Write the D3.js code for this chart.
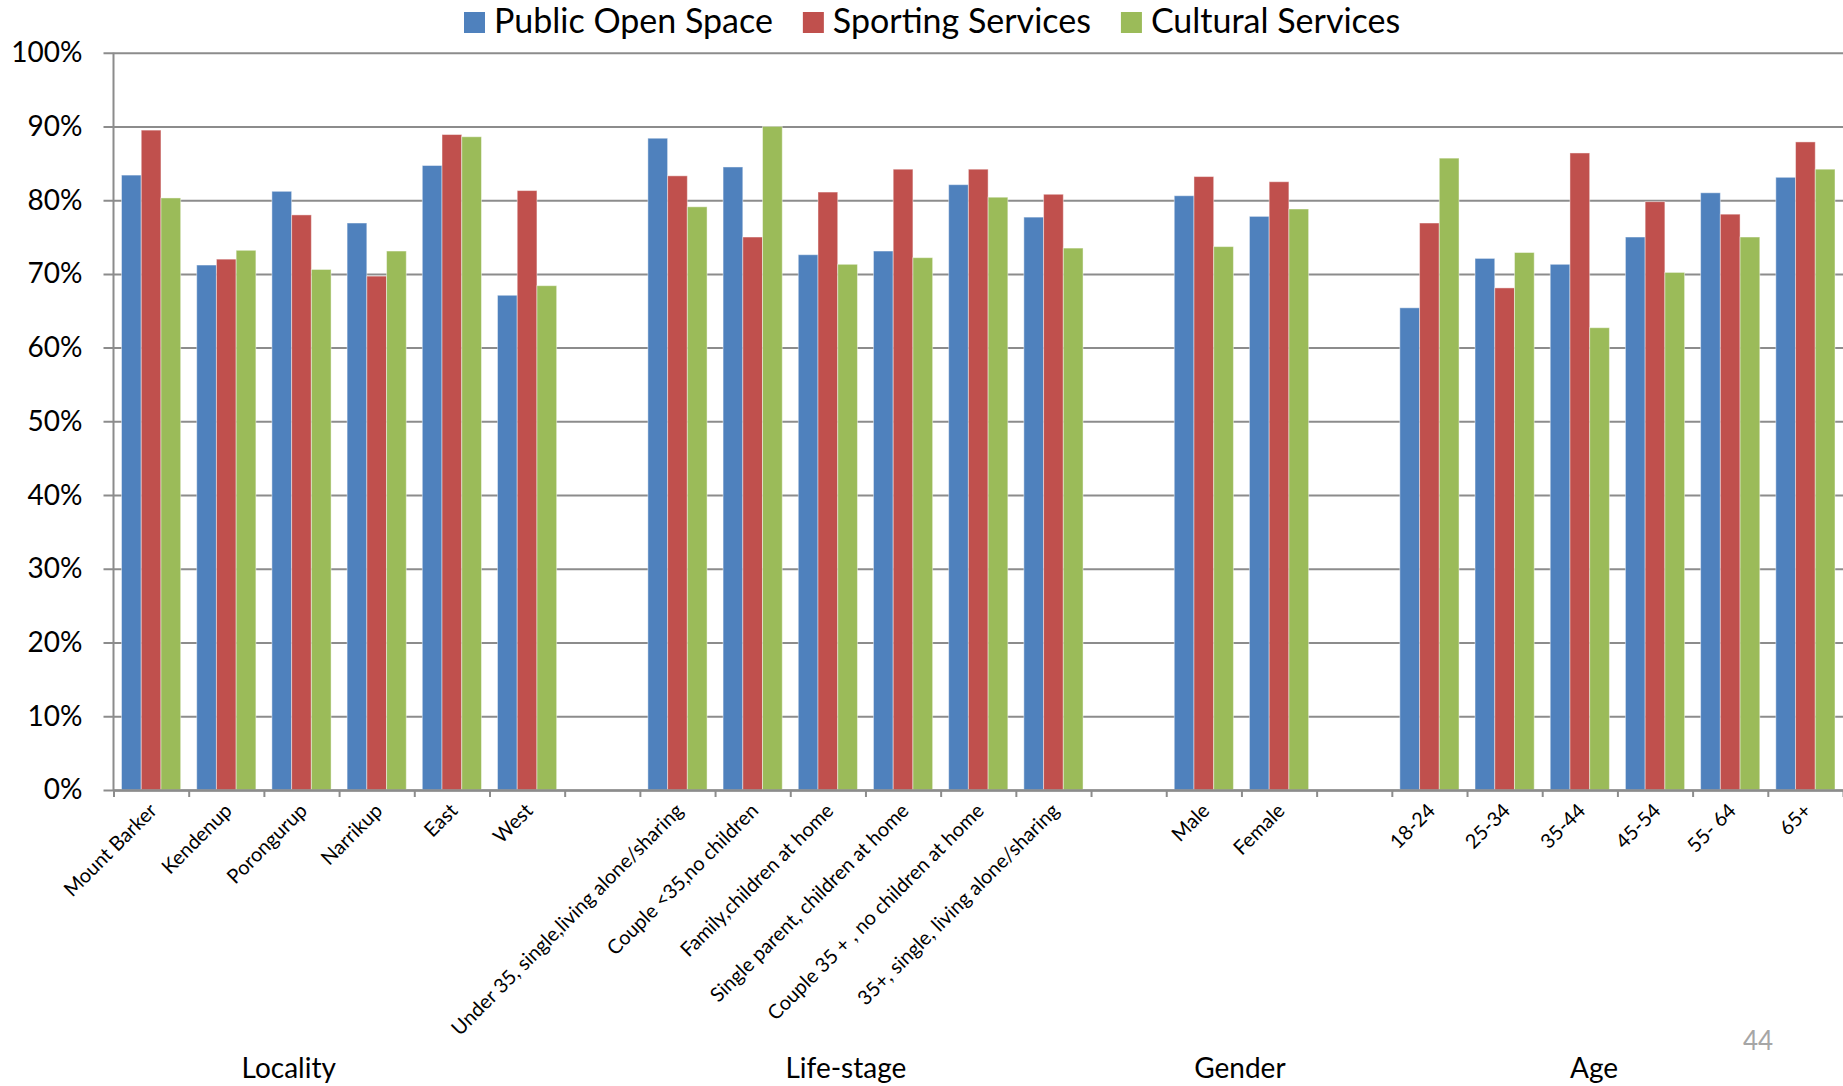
<!DOCTYPE html>
<html>
<head>
<meta charset="utf-8">
<script src="https://cdn.jsdelivr.net/npm/d3@7"></script>
<style>
  html, body { margin: 0; padding: 0; background: #ffffff; }
  svg { display: block; font-family: Lato, "Open Sans", sans-serif; }
</style>
</head>
<body>
<svg id="chart" width="1843" height="1086"></svg>
<script>
// Category slots along the x axis; empty strings are spacer slots between groups.
const categories = [
  "Mount Barker", "Kendenup", "Porongurup", "Narrikup", "East", "West",
  "",
  "Under 35, single,living alone/sharing", "Couple <35,no children",
  "Family,children at home", "Single parent, children at home",
  "Couple 35 + , no children at home", "35+, single, living alone/sharing",
  "",
  "Male", "Female",
  "",
  "18-24", "25-34", "35-44", "45-54", "55- 64", "65+"
];

// Share of respondents (%) per category for each service.
const publicOpenSpace = [83.4, 71.2, 81.2, 76.9, 84.7, 67.1, null,
  88.4, 84.5, 72.6, 73.1, 82.1, 77.7, null,
  80.6, 77.8, null,
  65.4, 72.1, 71.3, 75.0, 81.0, 83.1];
const sportingServices = [89.5, 72.0, 78.0, 69.7, 88.9, 81.3, null,
  83.3, 75.0, 81.1, 84.2, 84.2, 80.8, null,
  83.2, 82.5, null,
  76.9, 68.1, 86.4, 79.8, 78.1, 87.9];
const culturalServices = [80.3, 73.2, 70.6, 73.1, 88.6, 68.4, null,
  79.1, 90.0, 71.3, 72.2, 80.4, 73.5, null,
  73.7, 78.8, null,
  85.7, 72.9, 62.7, 70.2, 75.0, 84.2];

const seriesNames = ["Public Open Space", "Sporting Services", "Cultural Services"];
const seriesColors = ["#4F81BD", "#C0504D", "#9BBB59"];

const yTicks = [0, 10, 20, 30, 40, 50, 60, 70, 80, 90, 100];

// Group captions under the axis, placed in category units from the axis origin.
const groupNames = ["Locality", "Life-stage", "Gender", "Age"];
const groupPositions = [2.33, 9.74, 14.98, 19.69];

const pageNumber = "44";

const seriesValues = [publicOpenSpace, sportingServices, culturalServices];

const svg = d3.select("#chart");
const plot = { left: 113.5, right: 1843, top: 52.7, bottom: 790 };

const x = d3.scaleBand()
  .domain(d3.range(categories.length))
  .range([plot.left, plot.right])
  .paddingInner(0.213)
  .paddingOuter(0.1065);
const xSeries = d3.scaleBand()
  .domain(d3.range(seriesNames.length))
  .range([0, x.bandwidth()]);
const xUnits = d3.scaleLinear()
  .domain([0, categories.length])
  .range([plot.left, plot.right]);
const y = d3.scaleLinear().domain([0, 100]).range([plot.bottom, plot.top]);

const gridColor = "#8c8c8c";

// Horizontal gridlines and percentage labels
const yAxisG = svg.append("g")
  .attr("transform", `translate(${plot.left - 10},0)`)
  .call(d3.axisLeft(y)
    .tickValues(yTicks)
    .tickSize(-(plot.right - plot.left + 10))
    .tickPadding(21)
    .tickFormat(d => d + "%"));
yAxisG.select(".domain").remove();
yAxisG.selectAll(".tick line").attr("stroke", gridColor).attr("stroke-width", 2);
yAxisG.selectAll(".tick text")
  .attr("fill", "#000")
  .style("font-size", "28px")
  .style("font-family", "Lato, sans-serif");

// Vertical value axis line
svg.append("line")
  .attr("x1", plot.left).attr("x2", plot.left)
  .attr("y1", y(100)).attr("y2", y(0))
  .attr("stroke", gridColor).attr("stroke-width", 2);

// Bars
const barG = svg.append("g");
seriesValues.forEach((vals, s) => {
  barG.append("g")
    .selectAll("rect")
    .data(vals.map((v, i) => ({ i, v })).filter(d => d.v !== null))
    .join("rect")
    .attr("x", d => x(d.i) + xSeries(s))
    .attr("width", xSeries.bandwidth())
    .attr("y", d => y(d.v))
    .attr("height", d => y(0) - y(d.v))
    .attr("fill", seriesColors[s])
    .attr("stroke", "rgba(255,255,255,0.45)")
    .attr("stroke-width", 1);
});

// Category axis with tick marks between categories
const xAxisG = svg.append("g")
  .attr("transform", `translate(0,${plot.bottom})`)
  .call(d3.axisBottom(xUnits)
    .tickValues(d3.range(categories.length + 1))
    .tickSize(7)
    .tickSizeOuter(0)
    .tickFormat(""));
xAxisG.select(".domain").attr("stroke", gridColor).attr("stroke-width", 2.5);
xAxisG.selectAll(".tick line").attr("stroke", gridColor).attr("stroke-width", 2);

// Rotated category labels
svg.append("g")
  .selectAll("text")
  .data(categories.map((c, i) => ({ c, i })).filter(d => d.c !== ""))
  .join("text")
  .attr("transform", d => `translate(${x(d.i) + x.bandwidth() / 2 + 2},${plot.bottom + 17}) rotate(-45)`)
  .attr("text-anchor", "end")
  .attr("dy", "0.35em")
  .style("font-size", "20px")
  .attr("fill", "#000")
  .text(d => d.c);

// Group captions
svg.append("g")
  .selectAll("text")
  .data(groupNames.map((g, i) => ({ g, p: groupPositions[i] })))
  .join("text")
  .attr("x", d => xUnits(d.p))
  .attr("y", 1078)
  .attr("text-anchor", "middle")
  .style("font-size", "28px")
  .attr("fill", "#000")
  .text(d => d.g);

// Page number
svg.append("text")
  .attr("x", 1758).attr("y", 1050)
  .attr("text-anchor", "middle")
  .style("font-size", "26px")
  .attr("fill", "#a6a6a6")
  .text(pageNumber);

// Legend across the top
const legend = svg.append("g").attr("transform", "translate(464,0)");
let lx = 0;
seriesNames.forEach((name, s) => {
  const item = legend.append("g").attr("transform", `translate(${lx},0)`);
  item.append("rect")
    .attr("x", 0).attr("y", 12)
    .attr("width", 21).attr("height", 21)
    .attr("fill", seriesColors[s]);
  const t = item.append("text")
    .attr("x", 30).attr("y", 33)
    .style("font-size", "34px")
    .attr("fill", "#000")
    .text(name);
  lx += 30 + t.node().getComputedTextLength() + 30;
});
</script>
</body>
</html>
